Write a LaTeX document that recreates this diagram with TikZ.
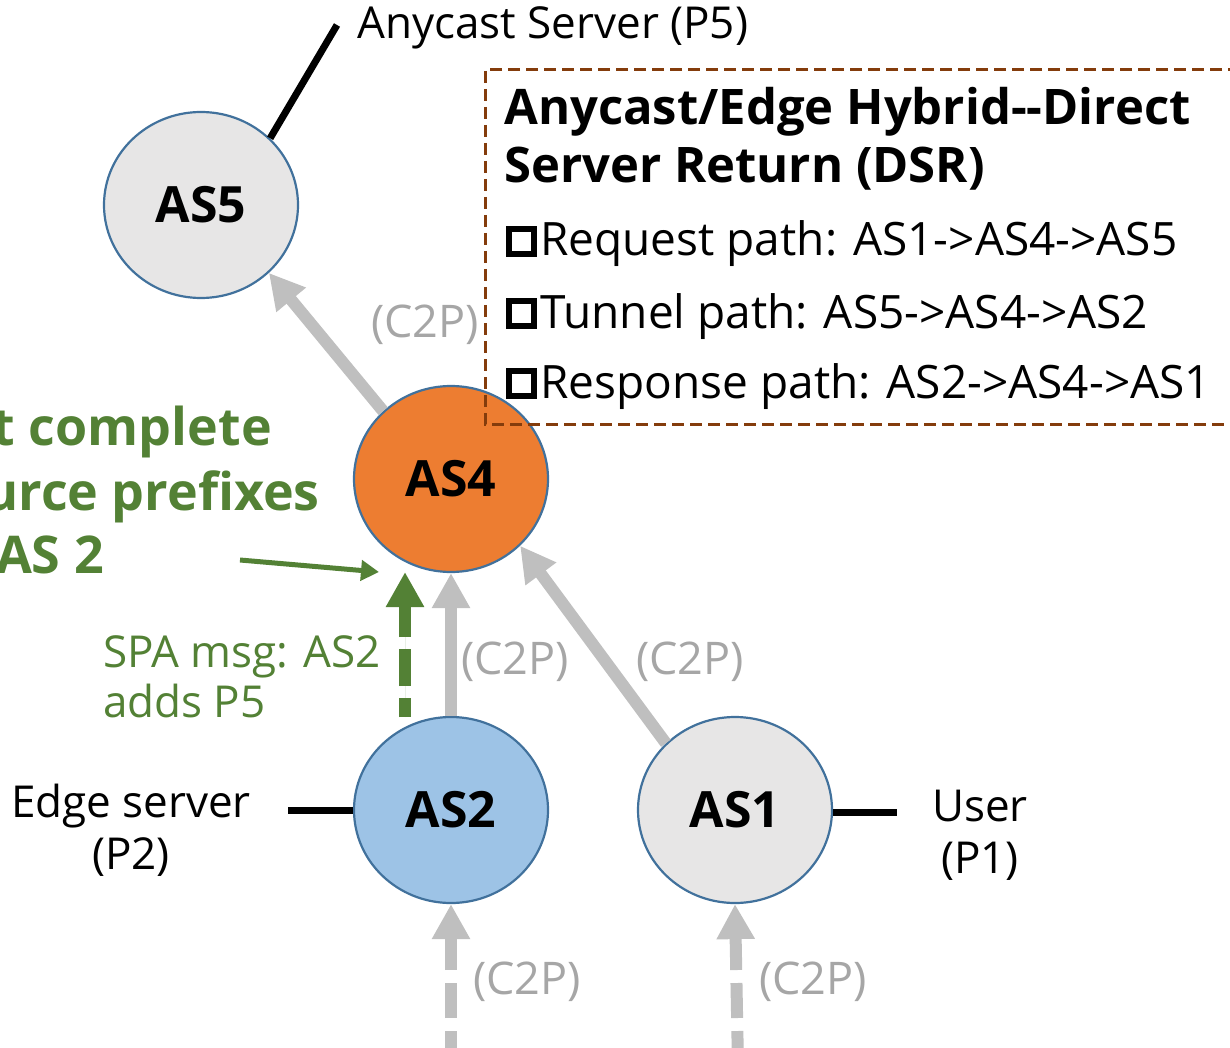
\documentclass[tikz,border=0pt]{standalone}
\usepackage{fontspec}
\setmainfont{Open Sans}
\usetikzlibrary{arrows.meta,shapes.geometric}
\definecolor{nodegray}{HTML}{E7E6E6}
\definecolor{nodeborder}{HTML}{41719C}
\definecolor{nodeorange}{HTML}{ED7D31}
\definecolor{nodeblue}{HTML}{9DC3E6}
\definecolor{arrowgray}{HTML}{BFBFBF}
\definecolor{labelgray}{HTML}{A6A6A6}
\definecolor{darkgreen}{HTML}{538135}
\definecolor{boxbrown}{HTML}{843C0C}
\tikzset{
  asnode/.style={ellipse, draw=nodeborder, line width=2.2pt, minimum width=194pt, minimum height=186pt, inner sep=0pt, font=\fontsize{50}{60}\selectfont\bfseries},
  grayarrow/.style={draw=arrowgray, line width=12pt, -{Triangle[width=36pt,length=35pt]}},
  greenarrow/.style={draw=darkgreen, fill=darkgreen, line width=12pt, -{Triangle[width=36pt,length=35pt]}},
  blackline/.style={draw=black, line width=7pt},
  ctwop/.style={text=labelgray, font=\fontsize{45}{52}\selectfont, inner sep=0pt},
  plain/.style={font=\fontsize{44}{52}\selectfont, inner sep=0pt},
  greenbig/.style={text=darkgreen, font=\fontsize{52}{65}\selectfont\bfseries, anchor=base east, inner sep=0pt},
  boxitem/.style={font=\fontsize{46}{52}\selectfont, anchor=base west, inner sep=0pt},
  sqbox/.style={draw=black, line width=6.5pt},
}
\begin{document}
\begin{tikzpicture}[x=1pt,y=-1pt]
\useasboundingbox (0,0) rectangle (1230,1048);

% nodes
\node[asnode, fill=nodegray] (AS5) at (201,205) {AS5};
\node[asnode, fill=nodeorange] (AS4) at (451,479) {AS4};
\node[asnode, fill=nodeblue] (AS2) at (451,810) {AS2};
\node[asnode, fill=nodegray] (AS1) at (735,810) {AS1};

% gray arrows
\draw[grayarrow] (AS4.135) -- (AS5.-45);
\draw[grayarrow] (AS2.90) -- (AS4.-90);
\draw[grayarrow] (AS1.136) -- (AS4.-44);
\coordinate (b2) at (451,1066);
\coordinate (b1) at (738,1066);
\draw[grayarrow, dash pattern=on 35pt off 13pt] (b2) -- (AS2.-90);
\draw[grayarrow, dash pattern=on 35pt off 13pt] (b1) -- (AS1.-90);

% green arrows
\coordinate (g1) at (405,717);
\coordinate (g2) at (405,572);
\draw[greenarrow, dash pattern=on 37pt off 12pt, dash phase=18pt] (g1) -- (g2);
\coordinate (t1) at (240,560);
\coordinate (t2) at (379,572);
\draw[draw=darkgreen, line width=5pt, -{Triangle[width=20pt,length=18pt]}] (t1) -- (t2);

% C2P labels
\node[ctwop] (c1) at (425,325) {(C2P)};
\node[ctwop] (c2) at (515,662) {(C2P)};
\node[ctwop] (c3) at (690,662) {(C2P)};
\node[ctwop] (c4) at (527,982) {(C2P)};
\node[ctwop] (c5) at (813,982) {(C2P)};

% black lines and endpoint labels
\coordinate (p5) at (337,25);
\draw[blackline] (AS5.44) -- (p5);
\node[plain, anchor=base west] (p5t) at (357,39) {Anycast Server (P5)};

\coordinate (p2) at (288,810);
\draw[blackline] (p2) -- (AS2.west);
\node[plain, align=center] (p2t) at (131,830) {Edge server\\(P2)};

\coordinate (p1) at (897,812);
\draw[blackline] (AS1.east |- p1) -- (p1);
\node[plain, align=center] (p1t) at (980,835) {User\\(P1)};

% green text
\node[greenbig] (gt1) at (272,445) {t complete};
\node[greenbig] (gt2) at (320,510) {urce prefixes};
\node[greenbig] (gt3) at (104,573) {AS 2};

\node[text=darkgreen, font=\fontsize{44}{50}\selectfont, anchor=base west, inner sep=0pt, align=left] (spa) at (103,717) {SPA msg: AS2\\adds P5};

% DSR box
\draw[draw=boxbrown, line width=3pt, dash pattern=on 12pt off 6pt] (1240,70) -- (485,70) -- (485,424) -- (1240,424);
\node[font=\fontsize{49}{58}\selectfont\bfseries, anchor=base west, inner sep=0pt, align=left] (title) at (504,183) {Anycast/Edge Hybrid-{}-Direct\\Server Return (DSR)};
\draw[sqbox] (509,229) rectangle (534,254);
\draw[sqbox] (509,301) rectangle (534,326);
\draw[sqbox] (509,371) rectangle (534,396);
\node[boxitem] (i1) at (540,256) {Request path: AS1->AS4->AS5};
\node[boxitem] (i2) at (540,328) {Tunnel path: AS5->AS4->AS2};
\node[boxitem] (i3) at (540,398) {Response path: AS2->AS4->AS1};
\end{tikzpicture}
\end{document}
